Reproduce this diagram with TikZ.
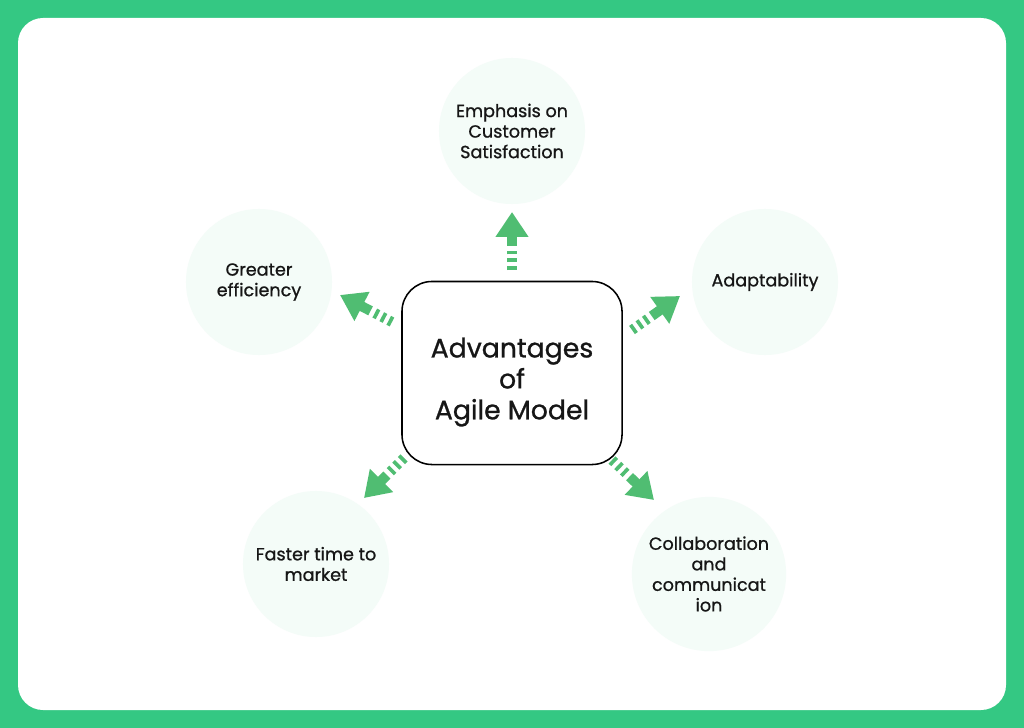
\documentclass[tikz,border=0pt]{standalone}
\usepackage{fontspec}
\setmainfont{Poppins}[FakeBold=0.9]
\usepackage{tikz}
\usetikzlibrary{arrows.meta, positioning, calc}
\definecolor{agFrame}{HTML}{34C883}
\definecolor{agArrow}{HTML}{50BD72}
\definecolor{agMint}{HTML}{F4FCF8}
\definecolor{agText}{HTML}{161616}
\tikzset{
  hub/.style={
    draw=black, line width=1.1pt, rounded corners=0.75cm, fill=white,
    minimum width=5.5cm, minimum height=4.575cm, align=center,
    text=agText, font=\fontsize{19}{22}\selectfont
  },
  benefit/.style={
    circle, fill=agMint, minimum size=3.65cm, align=center,
    text=agText, font=\fontsize{12.5}{14.6}\selectfont
  },
  pointer/.style={
    agArrow, line width=0.25cm,
    dash pattern=on 2.6pt off 3pt on 2.6pt off 3pt on 2.6pt off 3.4pt on 12pt,
    -{Triangle[length=0.62cm, width=0.78cm]}
  }
}

\begin{document}
\begin{tikzpicture}[x=0.025cm, y=-0.025cm]
  % frame
  \fill[agFrame] (0,0) rectangle (1024,728);
  \fill[white, rounded corners=0.625cm] (18,18) rectangle (1006,710);
  % nodes
  \node[hub] (hub) at (512,373) {\rule{0pt}{27pt}Advantages\\of\\ Agile Model};
  \node[benefit] (sat) at (512,131) {Emphasis on\\Customer\\Satisfaction};
  \node[benefit] (eff) at (259,282) {Greater\\efficiency};
  \node[benefit] (ada) at (765,282) {Adaptability};
  \node[benefit] (fst) at (316,564) {Faster time to\\market};
  \node[benefit] (col) at (709,574) {Collaboration\\and\\communicat\\ion};
  % arrow ends
  \coordinate (sat-t) at (512,270);  \coordinate (sat-h) at (512,212);
  \coordinate (eff-t) at (392,322);  \coordinate (eff-h) at (340,295);
  \coordinate (ada-t) at (632,330);  \coordinate (ada-h) at (680,296);
  \coordinate (fst-t) at (404,458);  \coordinate (fst-h) at (364,498);
  \coordinate (col-t) at (612,460);  \coordinate (col-h) at (654,500);
  \foreach \n in {sat,eff,ada,fst,col}{
    \draw[pointer] (\n-t) -- (\n-h);
  }
\end{tikzpicture}
\end{document}
